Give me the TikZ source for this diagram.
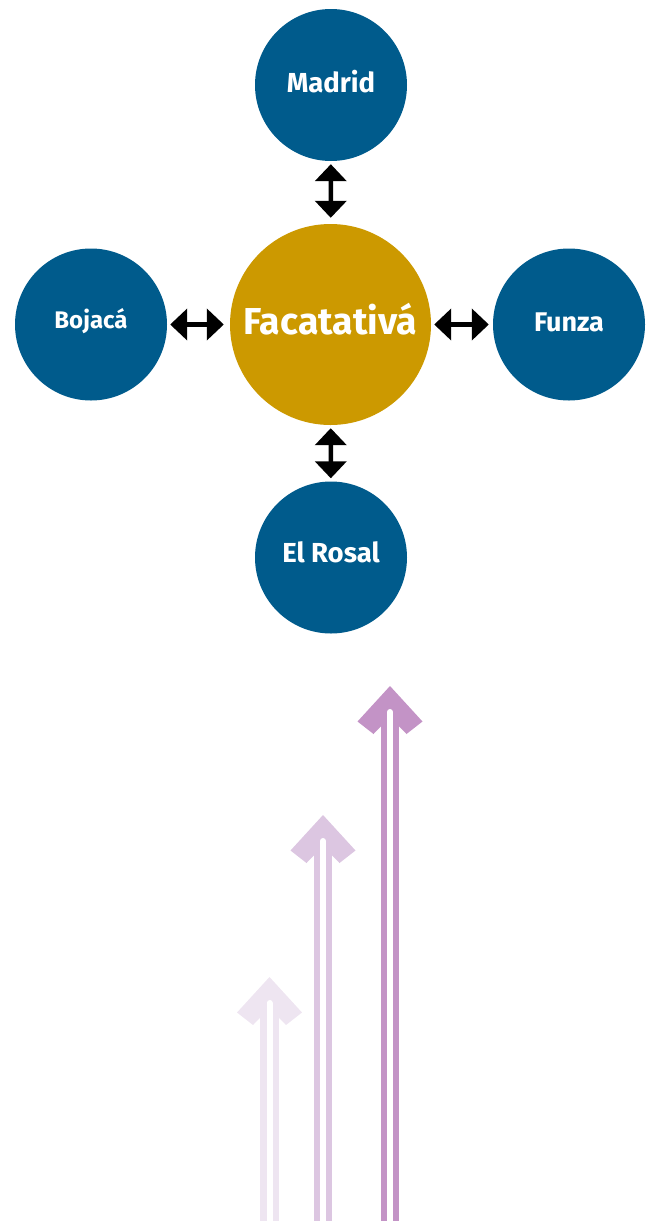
\documentclass[tikz,border=0pt]{standalone}
\usepackage{fontspec}
\setmainfont{Fira Sans}
\usetikzlibrary{arrows.meta}
\definecolor{cblue}{HTML}{005B8C}
\definecolor{cgold}{HTML}{CC9900}
\definecolor{pdark}{HTML}{C393C6}
\definecolor{pmid}{HTML}{DCC6E1}
\definecolor{plight}{HTML}{EEE5F1}
\newcommand\purplearrow[3]{%
  \fill[#3] (#1,#2) -- ++(-32.5,35.5) -- ++(16,12.5) -- ++(16.5,-17) -- ++(16.5,17) -- ++(16,-12.5) -- cycle;
  \draw[#3, line width=6.3pt, double=white, double distance=6pt, line cap=round] (#1,#2+26) -- (#1,1240);
}
\tikzset{
  city/.style={circle, fill=cblue, text=white, minimum size=152pt, inner sep=0pt, text depth=0pt, font=\bfseries\fontsize{27.5}{30}\selectfont},
  hub/.style={circle, fill=cgold, text=white, minimum size=201pt, inner sep=0pt, text depth=0pt, font=\bfseries\fontsize{37.5}{42}\selectfont},
  link/.style={line width=4.5pt, {Triangle[length=17pt,width=31pt]}-{Triangle[length=17pt,width=31pt]}}
}
\begin{document}
\begin{tikzpicture}[x=1pt,y=-1pt]
\useasboundingbox (0,0) rectangle (652,1221);
\node[hub, text height=20.8pt] (faca) at (330.5,324.5) {Facatativá};
\node[city, text height=14.5pt] (madrid) at (331,85) {Madrid};
\node[city, text height=8.1pt, font=\bfseries\fontsize{24}{28}\selectfont] (bojaca) at (91,324.5) {Bojacá};
\node[city, text height=14.6pt, font=\bfseries\fontsize{27}{30}\selectfont] (funza) at (569,324.5) {Funza};
\node[city, text height=9.5pt] (rosal) at (331,557.5) {El Rosal};
\draw[link, shorten <=3pt, shorten >=6pt] (madrid) -- (faca);
\draw[link, shorten <=3pt, shorten >=6pt] (bojaca) -- (faca);
\draw[link, shorten <=4pt, shorten >=3pt] (funza) -- (faca);
\draw[link, shorten <=3pt, shorten >=3pt] (rosal) -- (faca);
\purplearrow{269.5}{977}{plight}
\purplearrow{323}{815}{pmid}
\purplearrow{390}{686}{pdark}
\end{tikzpicture}
\end{document}
